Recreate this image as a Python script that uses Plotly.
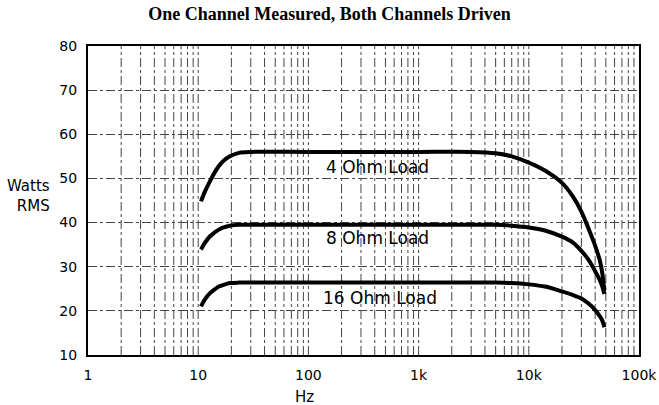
import math
import plotly.graph_objects as go

freq = [10.6, 11.5, 12.8, 14, 15.4, 17, 19.4, 23.4, 30, 100, 1000, 3000, 5000, 7000,
        10000, 14000, 20000, 25000, 30000, 35000, 39000, 44000, 46500, 48500]
ohm4 = [44.8, 47.0, 49.4, 51.2, 52.8, 54.0, 55.0, 55.8, 56.0, 56.0, 56.0, 56.0, 55.7, 55.0,
        53.6, 51.8, 49.0, 46.0, 42.5, 38.5, 35.5, 31.5, 28.5, 24.5]
ohm8 = [33.9, 35.4, 36.9, 37.7, 38.4, 38.9, 39.3, 39.5, 39.5, 39.5, 39.5, 39.5, 39.5, 39.3,
        38.9, 38.2, 36.8, 35.5, 33.6, 31.5, 29.5, 27.0, 25.5, 23.8]
ohm16 = [21.0, 22.6, 24.0, 24.8, 25.5, 25.9, 26.3, 26.4, 26.4, 26.4, 26.4, 26.4, 26.4, 26.3,
         26.0, 25.5, 24.4, 23.6, 22.8, 21.6, 20.5, 18.8, 17.8, 16.3]

series_names = ["4 Ohm Load", "8 Ohm Load", "16 Ohm Load"]
label_f = [420, 420, 450]
label_y = [52.7, 36.6, 23.0]

x_major = [1, 10, 100, 1000, 10000, 100000]
x_major_text = ["1", "10", "100", "1k", "10k", "100k"]
y_ticks = [10, 20, 30, 40, 50, 60, 70, 80]

x_grid = [m * d for d in [1, 10, 100, 1000, 10000] for m in range(2, 10)] + x_major[1:-1]

SANS = "DejaVu Sans, Verdana, sans-serif"

fig = go.Figure()
for vals in [ohm4, ohm8, ohm16]:
    fig.add_trace(go.Scatter(x=freq, y=vals, mode="lines",
                             line=dict(color="black", width=4, shape="spline", smoothing=0.8),
                             showlegend=False, hoverinfo="skip"))

for xv in x_grid:
    fig.add_shape(type="line", xref="x", yref="paper", x0=xv, x1=xv, y0=0, y1=1,
                  line=dict(color="#444444", width=1, dash="dashdot"), layer="below")

for name, lf, ly in zip(series_names, label_f, label_y):
    fig.add_annotation(x=math.log10(lf), y=ly, xref="x", yref="y", text=name, showarrow=False,
                       font=dict(family=SANS, size=17, color="black"))

fig.add_annotation(x=-0.065, y=46.1, xref="paper", yref="y", xanchor="right", yanchor="middle",
                   text="Watts<br>RMS", showarrow=False, align="right",
                   font=dict(family=SANS, size=15, color="black"))

fig.add_annotation(x=2, y=0, xref="x", yref="paper", xanchor="center", yanchor="top",
                   yshift=-31, xshift=-4, text="Hz", showarrow=False,
                   font=dict(family=SANS, size=15, color="black"))

fig.update_layout(
    width=659, height=405,
    margin=dict(l=88, r=20, t=46, b=50, autoexpand=False),
    paper_bgcolor="white", plot_bgcolor="white",
    title=dict(text="<b>One Channel Measured, Both Channels Driven</b>",
               x=0.5, xanchor="center", y=1 - 14 / 405, yanchor="middle",
               font=dict(family="Liberation Serif, serif", size=18, color="black")),
    xaxis=dict(type="log", range=[0, 5], tickvals=x_major, ticktext=x_major_text,
               showgrid=False, showline=True, linecolor="black", linewidth=2, mirror=True,
               ticks="", ticklabelstandoff=6, automargin=False,
               tickfont=dict(family=SANS, size=14, color="black")),
    yaxis=dict(range=[10, 80], tickvals=y_ticks, showgrid=True, gridcolor="#444444",
               griddash="dashdot", gridwidth=1, automargin=False,
               showline=True, linecolor="black", linewidth=2, mirror=True, zeroline=False,
               ticks="", ticklabelstandoff=6,
               tickfont=dict(family=SANS, size=14, color="black")),
)

fig.write_html("out.html", config={"displayModeBar": False},
               post_script="document.body.style.margin='0';")
